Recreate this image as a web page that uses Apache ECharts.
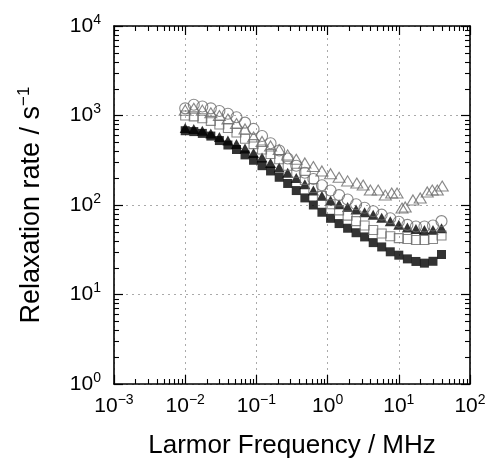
<!DOCTYPE html>
<html><head><meta charset="utf-8">
<script src="https://cdn.jsdelivr.net/npm/echarts@6/dist/echarts.min.js"></script>
<style>html,body{margin:0;padding:0;background:#fff}#c{width:494px;height:470px}</style>
</head><body><div id="c"></div>
<script>
// Larmor frequency (MHz) shared by four of the profiles
const freq = [0.0100, 0.0132, 0.0174, 0.0229, 0.0302, 0.0398, 0.0525, 0.0692, 0.0912, 0.120,
  0.158, 0.209, 0.275, 0.363, 0.479, 0.631, 0.832, 1.10, 1.45, 1.91,
  2.51, 3.31, 4.37, 5.75, 7.59, 10.0, 13.2, 17.4, 22.9, 30.2, 39.8];
// Relaxation rates (s^-1)
const filledSquares = [676, 661, 631, 589, 525, 468, 417, 363, 316, 275,
  240, 204, 174, 145, 120, 100, 83, 71, 62, 55,
  49, 44, 38, 34, 30, 27.5, 25, 23.4, 22.4, 23.5, 28];
const filledTriangles = [724, 708, 676, 631, 575, 525, 479, 427, 380, 339,
  295, 263, 229, 200, 170, 145, 126, 112, 102, 95,
  89, 83, 78, 72, 66, 60, 56, 54, 52.5, 52.5, 55];
const openSquares = [1000, 977, 933, 871, 794, 724, 646, 550, 479, 417,
  372, 324, 275, 229, 191, 155, 126, 102, 87, 76,
  66, 59, 52.5, 48, 44.7, 42.7, 41.7, 40.7, 40.7, 41.7, 45.7];
const openCircles = [1202, 1318, 1259, 1202, 1122, 1047, 955, 832, 708, 589,
  490, 407, 331, 275, 229, 195, 166, 145, 129, 115,
  102, 93, 85, 78, 71, 65, 60, 57.5, 57.5, 59, 66];
// open triangles have their own frequency list (denser at high field)
const freqOT = [0.0100, 0.0132, 0.0174, 0.0229, 0.0302, 0.0398, 0.0525, 0.0692, 0.0912, 0.120,
  0.158, 0.209, 0.275, 0.363, 0.479, 0.631, 0.832, 1.10, 1.45, 1.91,
  2.57, 3.16, 3.98, 5.13, 6.46, 7.94, 9.44, 11.1, 12.3, 15.8, 20.0, 25.1, 29.5, 34.7, 40.7];
const openTriangles = [1148, 1202, 1148, 1072, 1000, 912, 813, 708, 575, 513,
  457, 417, 363, 324, 295, 269, 240, 224, 204, 186,
  176, 167, 147, 147, 129, 136, 136, 92.5, 95, 114, 120, 140, 147, 147, 163];

// tick labels (exponents of 10)
const xTickExponents = [-3, -2, -1, 0, 1, 2];
const yTickExponents = [0, 1, 2, 3, 4];
const minorMultipliers = [2, 3, 4, 5, 6, 7, 8, 9];

const FONT = 'Liberation Sans';
function expLabel(v) {
  const e = Math.round(Math.log10(v));
  return '{b|10}{s|' + (e < 0 ? '\u2212' + (-e) : e) + '}';
}
const labelRich = {
  b: {fontSize: 21, fontFamily: FONT, color: '#000', lineHeight: 26},
  s: {fontSize: 14, fontFamily: FONT, color: '#000', verticalAlign: 'top'}
};
const lineStyle = {color: '#000', width: 1.6};
const xMin = Math.pow(10, xTickExponents[0]), xMax = Math.pow(10, xTickExponents[xTickExponents.length - 1]);
const yMin = Math.pow(10, yTickExponents[0]), yMax = Math.pow(10, yTickExponents[yTickExponents.length - 1]);

function mainAxis(dim, pos, withLabels) {
  const isX = dim === 'x';
  return {
    type: 'log', logBase: 10,
    min: isX ? xMin : yMin, max: isX ? xMax : yMax,
    position: pos,
    axisLine: {show: true, onZero: false, lineStyle},
    axisTick: {show: true, inside: true, length: 9, lineStyle: {color: '#000', width: 1.2}},
    axisLabel: withLabels ? {show: true, formatter: expLabel, rich: labelRich, margin: isX ? 9 : 13} : {show: false},
    splitLine: {show: withLabels, lineStyle: {color: '#aaa', type: [2, 4], width: 1}},
    minorTick: {show: false}
  };
}

function pairs(xs, ys) { return xs.map((x, i) => [x, ys[i]]); }

const openStyle = {color: 'rgba(255,255,255,0)', borderColor: '#6a6a6a', borderWidth: 1.1};
const chart = echarts.init(document.getElementById('c'), null, {renderer: 'canvas'});
chart.setOption({
  animation: false,
  backgroundColor: '#fff',
  textStyle: {fontFamily: FONT},
  grid: {left: 114, right: 24, top: 26, bottom: 86, containLabel: false},
  xAxis: [
    Object.assign(mainAxis('x', 'bottom', true), {
      name: 'Larmor Frequency / MHz', nameLocation: 'middle', nameGap: 49,
      nameTextStyle: {fontSize: 26, fontFamily: FONT, color: '#000'}
    }),
    mainAxis('x', 'top', false)
  ],
  yAxis: [
    Object.assign(mainAxis('y', 'left', true), {
      name: '{a|Relaxation rate / s}{s|\u22121}', nameLocation: 'middle', nameGap: 66,
      nameTextStyle: {rich: {
        a: {fontSize: 27, fontFamily: FONT, color: '#000', lineHeight: 32},
        s: {fontSize: 17, fontFamily: FONT, color: '#000', verticalAlign: 'top'}
      }}
    }),
    mainAxis('y', 'right', false)
  ],
  series: [
    {type: 'scatter', name: 'filled squares', data: pairs(freq, filledSquares), symbol: 'rect', symbolSize: 9,
      itemStyle: {color: '#000'}},
    {type: 'scatter', name: 'filled triangles', data: pairs(freq, filledTriangles), symbol: 'triangle', symbolSize: [11, 10],
      itemStyle: {color: '#000'}},
    {type: 'scatter', name: 'open squares', data: pairs(freq, openSquares), symbol: 'rect', symbolSize: 9,
      itemStyle: openStyle},
    {type: 'scatter', name: 'open circles', data: pairs(freq, openCircles), symbol: 'circle', symbolSize: 11,
      itemStyle: openStyle},
    {type: 'scatter', name: 'open triangles', data: pairs(freqOT, openTriangles), symbol: 'triangle', symbolSize: [12, 10],
      itemStyle: openStyle}
  ]
});

// Minor (2..9) log ticks on all four sides, positioned through the chart's own scales
(function addMinorTicks() {
  const P = (x, y) => chart.convertToPixel({seriesIndex: 0}, [x, y]);
  const lb = P(xMin, yMin), rt = P(xMax, yMax);
  const left = lb[0], bottom = lb[1], right = rt[0], top = rt[1];
  const L = 5, els = [];
  const st = {stroke: '#000', lineWidth: 1.1};
  for (let i = 0; i < xTickExponents.length - 1; i++) {
    for (const m of minorMultipliers) {
      const px = Math.round(P(m * Math.pow(10, xTickExponents[i]), yMin)[0]) + 0.5;
      els.push({type: 'line', silent: true, z: 100, shape: {x1: px, y1: bottom, x2: px, y2: bottom - L}, style: st});
      els.push({type: 'line', silent: true, z: 100, shape: {x1: px, y1: top, x2: px, y2: top + L}, style: st});
    }
  }
  for (let i = 0; i < yTickExponents.length - 1; i++) {
    for (const m of minorMultipliers) {
      const py = Math.round(P(xMin, m * Math.pow(10, yTickExponents[i]))[1]) + 0.5;
      els.push({type: 'line', silent: true, z: 100, shape: {x1: left, y1: py, x2: left + L, y2: py}, style: st});
      els.push({type: 'line', silent: true, z: 100, shape: {x1: right, y1: py, x2: right - L, y2: py}, style: st});
    }
  }
  chart.setOption({graphic: [{type: 'group', elements: els}]});
})();
</script></body></html>
